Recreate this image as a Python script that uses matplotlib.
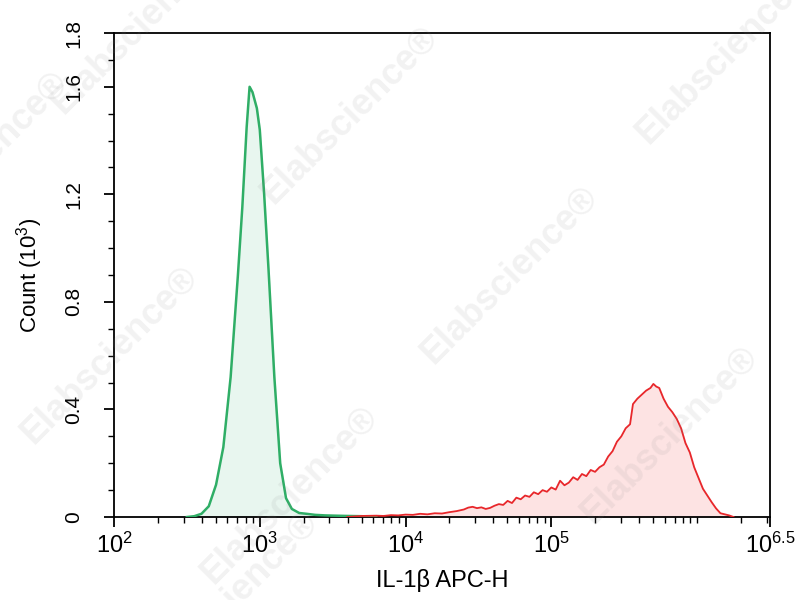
import matplotlib
matplotlib.use('Agg')
import matplotlib.pyplot as plt
from matplotlib.ticker import FixedLocator, NullFormatter

plt.rcParams['font.family'] = ['Liberation Sans', 'DejaVu Sans']
plt.rcParams['mathtext.fontset'] = 'custom'
plt.rcParams['mathtext.rm'] = 'Liberation Sans'
plt.rcParams['mathtext.it'] = 'Liberation Sans'

# isotype / control histogram (green): log10 channel, count (10^3)
ctrl_log = [2.50, 2.55, 2.60, 2.65, 2.70, 2.75, 2.80, 2.85, 2.88, 2.91, 2.93,
            2.95, 2.98, 3.00, 3.03, 3.06, 3.10, 3.14, 3.18, 3.22, 3.27, 3.32,
            3.38, 3.45, 3.52, 3.60, 3.70, 3.80]
ctrl_cnt = [0.0, 0.003, 0.012, 0.04, 0.12, 0.26, 0.52, 0.90, 1.15, 1.45, 1.60,
            1.58, 1.52, 1.44, 1.20, 0.92, 0.52, 0.20, 0.07, 0.03, 0.015, 0.012,
            0.008, 0.006, 0.005, 0.004, 0.003, 0.0]

# IL-1beta stained histogram (red)
il1b_log = [3.60, 3.70, 3.80, 3.85, 3.90, 3.95, 4.00, 4.05, 4.10, 4.15, 4.20,
            4.25, 4.30, 4.35, 4.40, 4.43, 4.46, 4.49, 4.52, 4.55, 4.58, 4.61,
            4.64, 4.67, 4.70, 4.73, 4.76, 4.79, 4.82, 4.85, 4.88, 4.91, 4.94,
            4.97, 5.00, 5.03, 5.06, 5.09, 5.12, 5.15, 5.18, 5.21, 5.24, 5.27,
            5.30, 5.33, 5.36, 5.39, 5.42, 5.45, 5.48, 5.51, 5.54, 5.56, 5.59,
            5.62, 5.65, 5.68, 5.70, 5.72, 5.74, 5.77, 5.80, 5.83, 5.86, 5.89,
            5.92, 5.95, 5.98, 6.01, 6.04, 6.07, 6.10, 6.13, 6.16, 6.19, 6.22,
            6.25]
il1b_cnt = [0.0, 0.004, 0.005, 0.004, 0.007, 0.006, 0.009, 0.008, 0.012, 0.010,
            0.014, 0.013, 0.018, 0.022, 0.028, 0.035, 0.038, 0.033, 0.036, 0.030,
            0.034, 0.042, 0.048, 0.045, 0.060, 0.052, 0.072, 0.066, 0.080, 0.075,
            0.092, 0.085, 0.100, 0.094, 0.110, 0.102, 0.135, 0.118, 0.128, 0.148,
            0.138, 0.160, 0.152, 0.175, 0.168, 0.185, 0.195, 0.225, 0.245, 0.280,
            0.300, 0.330, 0.345, 0.420, 0.440, 0.455, 0.470, 0.480, 0.495, 0.485,
            0.480, 0.440, 0.410, 0.390, 0.365, 0.330, 0.275, 0.240, 0.185, 0.145,
            0.105, 0.080, 0.055, 0.032, 0.014, 0.010, 0.006, 0.0]

x_ticks = [2, 3, 4, 5, 6.5]
x_ticklabels = [r'$\mathregular{10^{2}}$', r'$\mathregular{10^{3}}$',
                r'$\mathregular{10^{4}}$', r'$\mathregular{10^{5}}$',
                r'$\mathregular{10^{6.5}}$']
y_ticks = [0, 0.4, 0.8, 1.2, 1.6, 1.8]
y_ticklabels = ['0', '0.4', '0.8', '1.2', '1.6', '1.8']

fig = plt.figure(figsize=(8.04, 6.0), dpi=100)
ax = fig.add_axes([0.1418, 0.1383, 0.8159, 0.8067])

# HISTOGRAMS ----------------------------------------
ax.fill_between(ctrl_log, ctrl_cnt, color='#e8f6ef', zorder=1)
ax.plot(ctrl_log, ctrl_cnt, color='#2fae66', lw=1.8, zorder=3)
ax.fill_between(il1b_log, il1b_cnt, color='#fde3e3', zorder=1)
ax.plot(il1b_log, il1b_cnt, color='#e8272b', lw=1.3, zorder=3)

# AXES ----------------------------------------------
ax.set_xlim(2, 6.5)
ax.set_ylim(0, 1.8)
ax.set_xticks(x_ticks)
ax.set_xticklabels(x_ticklabels, fontsize=17)
minor_x = [d + m for d in range(2, 7) for m in
           [0.301, 0.477, 0.602, 0.699, 0.778, 0.845, 0.903, 0.954]
           if d + m < 6.5]
minor_x.append(6.0)
ax.xaxis.set_minor_locator(FixedLocator(minor_x))
ax.xaxis.set_minor_formatter(NullFormatter())
ax.set_yticks(y_ticks)
ax.set_yticklabels(y_ticklabels, fontsize=15, rotation=90, va='center')
ax.yaxis.set_minor_locator(FixedLocator([0.1, 0.2, 0.3, 0.5, 0.6, 0.7,
                                         0.9, 1.0, 1.1, 1.3, 1.4, 1.5, 1.7]))
ax.tick_params(which='major', length=7, width=1.3, direction='out')
ax.tick_params(which='minor', length=4, width=1.0, direction='out')
ax.tick_params(axis='x', pad=4)
ax.tick_params(axis='y', pad=15)
for s in ax.spines.values():
    s.set_linewidth(1.3)

ax.set_xlabel('IL-1β APC-H', fontsize=17, labelpad=8)
ax.set_ylabel(r'Count $\mathregular{(10^{3})}$', fontsize=16, labelpad=14)

# WATERMARKS ----------------------------------------
marks = [(140, 25), (350, 115), (725, 55), (-20, 160), (110, 355),
         (510, 275), (290, 495), (670, 435), (230, 600)]
for mx, my in marks:
    fig.text(mx / 804, 1 - my / 600, 'Elabscience®', fontsize=26,
             fontweight='bold', color='#888888', alpha=0.11, rotation=45,
             ha='center', va='center', zorder=10)

fig.savefig('out.png', dpi=100)
